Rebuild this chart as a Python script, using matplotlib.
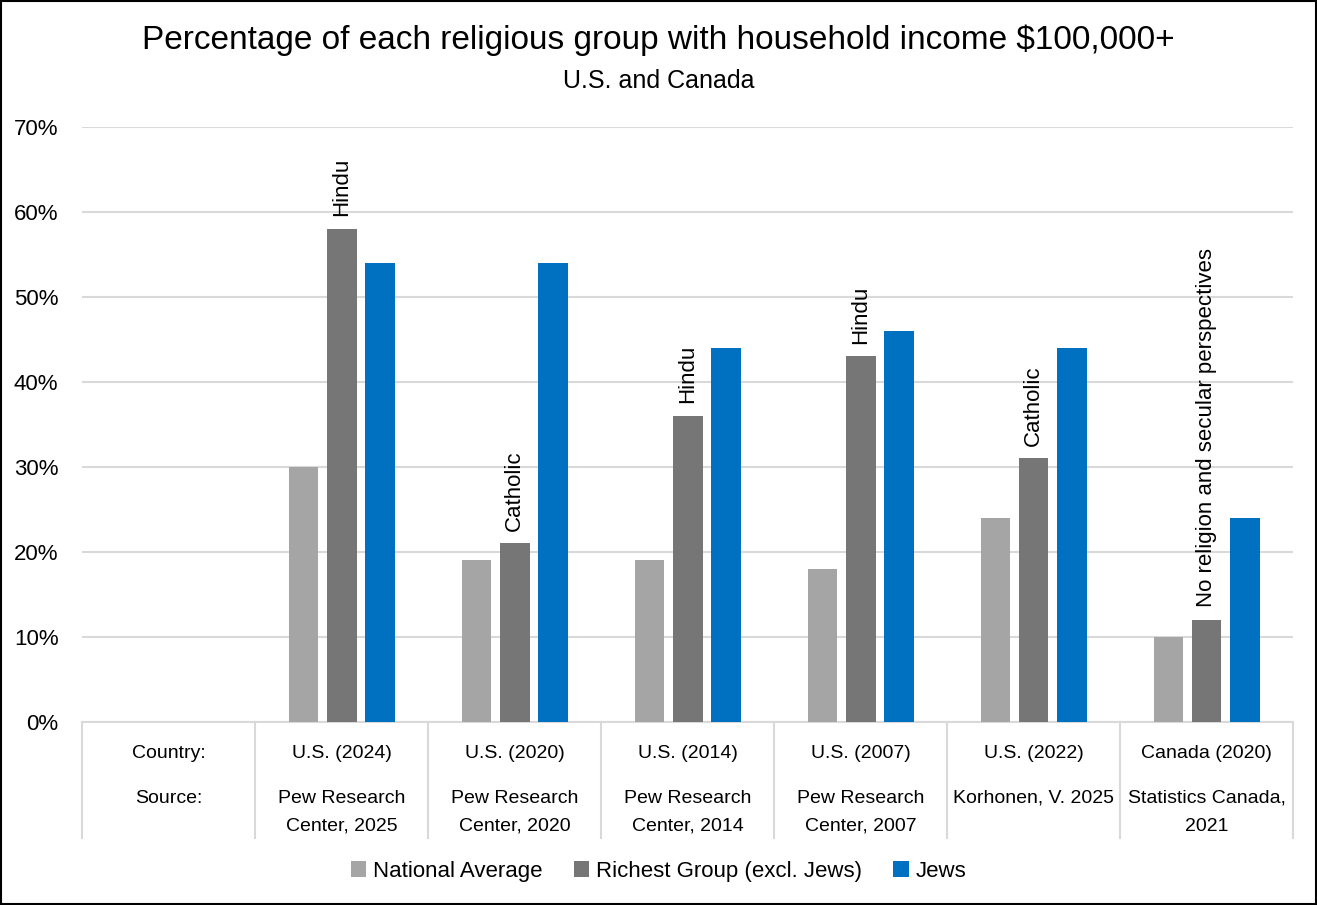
import matplotlib.pyplot as plt
from matplotlib.patches import Rectangle
from matplotlib.transforms import blended_transform_factory
import numpy as np

plt.rcParams['font.family'] = ['Liberation Sans', 'DejaVu Sans']

# Data
countries = ["U.S. (2024)", "U.S. (2020)", "U.S. (2014)", "U.S. (2007)", "U.S. (2022)", "Canada (2020)"]
sources = ["Pew Research\nCenter, 2025", "Pew Research\nCenter, 2020", "Pew Research\nCenter, 2014",
           "Pew Research\nCenter, 2007", "Korhonen, V. 2025", "Statistics Canada,\n2021"]
national_avg = [30, 19, 19, 18, 24, 10]
richest = [58, 21, 36, 43, 31, 12]
jews = [54, 54, 44, 46, 44, 24]
richest_names = ["Hindu", "Catholic", "Hindu", "Hindu", "Catholic", "No religion and secular perspectives"]

c_nat = '#A5A5A5'
c_rich = '#767676'
c_jew = '#0070C0'
grid_c = '#D9D9D9'

fig = plt.figure(figsize=(13.17, 9.05), dpi=100)
ax = fig.add_axes([0.0623, 0.2022, 0.9195, 0.6575])

x = np.arange(1, len(countries) + 1)
w = 0.173
off = 0.22
ax.bar(x - off, national_avg, width=w, color=c_nat, label="National Average", zorder=3)
ax.bar(x, richest, width=w, color=c_rich, label="Richest Group (excl. Jews)", zorder=3)
ax.bar(x + off, jews, width=w, color=c_jew, label="Jews", zorder=3)

# name of the richest group above its bar
for xi, v, name in zip(x, richest, richest_names):
    ax.text(xi, v + 1.5, name, rotation=90, ha='center', va='bottom', fontsize=16)

ax.set_xlim(-0.5, 6.5)
ax.set_ylim(0, 70)
ax.set_yticks(range(0, 71, 10))
ax.set_yticklabels([f"{t}%" for t in range(0, 71, 10)], fontsize=16)
ax.tick_params(axis='y', length=0, pad=17)
ax.set_xticks([])
ax.yaxis.grid(True, color=grid_c, linewidth=1.5, zorder=0)
for s in ['top', 'right', 'left']:
    ax.spines[s].set_visible(False)
ax.spines['bottom'].set_color(grid_c)
ax.spines['bottom'].set_linewidth(1.5)

# category table under the axis
tr = blended_transform_factory(ax.transData, ax.transAxes)
for b in np.arange(-0.5, 7, 1.0):
    ax.plot([b, b], [0, -0.195], transform=tr, color=grid_c, linewidth=1.5, clip_on=False)
ax.text(0, -0.0534, "Country:", transform=tr, ha='center', va='center', fontsize=14)
ax.text(0, -0.128, "Source:", transform=tr, ha='center', va='center', fontsize=14)
for xi, c, s in zip(x, countries, sources):
    ax.text(xi, -0.0534, c, transform=tr, ha='center', va='center', fontsize=14)
    for k, ln in enumerate(s.split("\n")):
        ax.text(xi, -0.128 - 0.047 * k, ln, transform=tr, ha='center', va='center', fontsize=14)

fig.text(0.5, 0.956, "Percentage of each religious group with household income $100,000+",
         ha='center', va='center', fontsize=24)
fig.text(0.5, 0.910, "U.S. and Canada", ha='center', va='center', fontsize=18)

fig.legend(loc='center', bbox_to_anchor=(0.5, 0.037), ncol=3, frameon=False, fontsize=16,
           handlelength=0.7, handleheight=0.7, columnspacing=1.4, handletextpad=0.3)

fig.patches.append(Rectangle((0.001, 0.001), 0.998, 0.998, transform=fig.transFigure,
                             fill=False, edgecolor='black', linewidth=1.5))

fig.savefig("out.png", dpi=100)
